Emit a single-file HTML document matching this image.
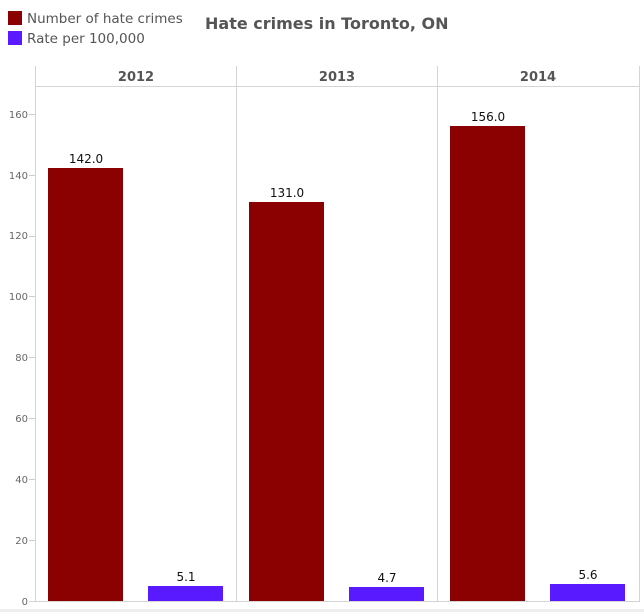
<!DOCTYPE html><html><head><style>body{margin:0;background:#fff;width:644px;height:612px;overflow:hidden;font-family:"DejaVu Sans","Liberation Sans",sans-serif}</style></head><body>
<svg width="644" height="612" xmlns="http://www.w3.org/2000/svg" font-family="DejaVu Sans, Liberation Sans, sans-serif">
<rect x="0" y="609" width="644" height="3" fill="#eeeeee"/>
<rect x="8" y="11" width="14" height="14" fill="#8b0000"/>
<text x="27" y="23" font-size="13.5" fill="#555">Number of hate crimes</text>
<rect x="8" y="31" width="14" height="14" fill="#5a1aff"/>
<text x="27" y="43" font-size="13.5" fill="#555">Rate per 100,000</text>
<text x="205" y="29" font-size="16" font-weight="bold" fill="#555">Hate crimes in Toronto, ON</text>
<g stroke="#d4d4d4" stroke-width="1" fill="none">
<line x1="35.5" y1="66" x2="35.5" y2="602"/>
<line x1="236.5" y1="66" x2="236.5" y2="602"/>
<line x1="437.5" y1="66" x2="437.5" y2="602"/>
<line x1="639.5" y1="66" x2="639.5" y2="602"/>
<line x1="35" y1="86.5" x2="640" y2="86.5"/>
<line x1="29" y1="601.5" x2="640" y2="601.5"/>
</g>
<g font-size="13" font-weight="bold" fill="#555" text-anchor="middle">
<text x="136" y="81">2012</text><text x="337" y="81">2013</text><text x="538" y="81">2014</text></g>
<g font-size="10" fill="#666" text-anchor="end">
<text x="28" y="118">160</text><text x="28" y="179">140</text><text x="28" y="239">120</text><text x="28" y="300">100</text><text x="28" y="361">80</text><text x="28" y="422">60</text><text x="28" y="483">40</text><text x="28" y="544">20</text><text x="28" y="605">0</text></g>
<g stroke="#ccc"><line x1="29" y1="114.5" x2="35" y2="114.5"/><line x1="29" y1="175.5" x2="35" y2="175.5"/><line x1="29" y1="236.5" x2="35" y2="236.5"/><line x1="29" y1="296.5" x2="35" y2="296.5"/><line x1="29" y1="357.5" x2="35" y2="357.5"/><line x1="29" y1="418.5" x2="35" y2="418.5"/><line x1="29" y1="479.5" x2="35" y2="479.5"/><line x1="29" y1="540.5" x2="35" y2="540.5"/></g>
<rect x="48" y="168" width="75" height="433" fill="#8b0000"/>
<rect x="249" y="202" width="75" height="399" fill="#8b0000"/>
<rect x="450" y="126" width="75" height="475" fill="#8b0000"/>
<rect x="148" y="586" width="75" height="15" fill="#5a1aff"/>
<rect x="349" y="587" width="75" height="14" fill="#5a1aff"/>
<rect x="550" y="584" width="75" height="17" fill="#5a1aff"/>
<g font-size="12" fill="#111" text-anchor="middle">
<text x="86" y="163">142.0</text><text x="287" y="197">131.0</text><text x="488" y="121">156.0</text>
<text x="186" y="581">5.1</text><text x="387" y="582">4.7</text><text x="588" y="579">5.6</text></g>
</svg></body></html>
